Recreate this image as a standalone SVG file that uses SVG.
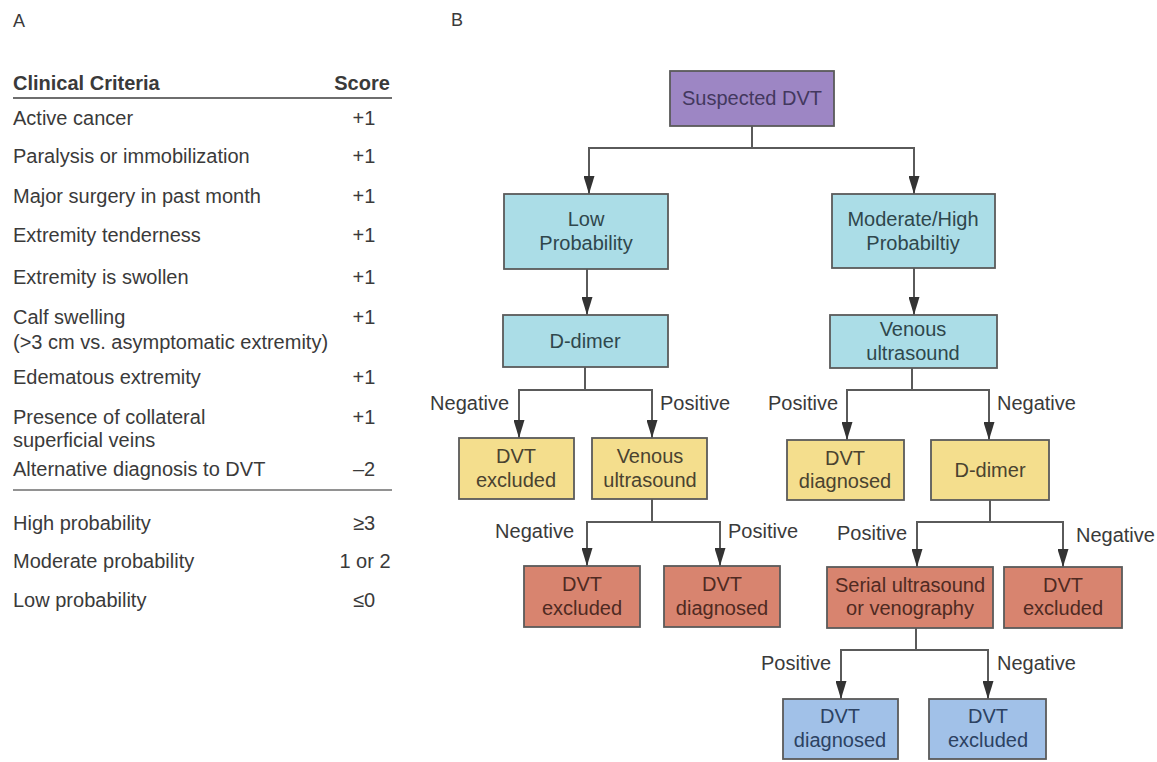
<svg xmlns="http://www.w3.org/2000/svg" width="1157" height="762" viewBox="0 0 1157 762">
<style>
text{font-family:"Liberation Sans",Arial,sans-serif;font-size:20px;fill:#3a3a3a}
.b{font-weight:bold}
.c{text-anchor:middle}
.e{text-anchor:end}
.hd{font-size:18px}
.box{stroke:#5a5a5a;stroke-width:1.8}
.pu{fill:#9d86c4}
.cy{fill:#abdde7}
.ye{fill:#f4de8d}
.rd{fill:#d8846f}
.bl{fill:#a1c1e8}
.tpu{fill:#43385e}
.tcy{fill:#2f474c}
.tye{fill:#4a4330}
.trd{fill:#4f2a22}
.tbl{fill:#2c4262}
.cn path{fill:none;stroke:#5a5a5a;stroke-width:2;marker-end:url(#ah)}
.rule{stroke:#6e6e6e}
</style>
<defs>
<marker id="ah" markerUnits="userSpaceOnUse" markerWidth="18" markerHeight="11" refX="18" refY="5.5" orient="auto">
<path d="M0,0 L18,5.5 L0,11 z" fill="#333"/>
</marker>
</defs>
<rect width="1157" height="762" fill="#ffffff"/>

<g id="panelA">
<text class="hd" x="13" y="27">A</text>
<text class="b" x="13" y="90">Clinical Criteria</text>
<text class="b c" x="362" y="90">Score</text>
<line class="rule" x1="13" y1="98" x2="392" y2="98" stroke-width="2"/>
<text x="13" y="125">Active cancer</text><text class="c" x="364" y="125">+1</text>
<text x="13" y="163">Paralysis or immobilization</text><text class="c" x="364" y="163">+1</text>
<text x="13" y="203">Major surgery in past month</text><text class="c" x="364" y="203">+1</text>
<text x="13" y="242">Extremity tenderness</text><text class="c" x="364" y="242">+1</text>
<text x="13" y="284">Extremity is swollen</text><text class="c" x="364" y="284">+1</text>
<text x="13" y="324">Calf swelling</text><text class="c" x="364" y="324">+1</text>
<text x="13" y="349">(&gt;3 cm vs. asymptomatic extremity)</text>
<text x="13" y="384">Edematous extremity</text><text class="c" x="364" y="384">+1</text>
<text x="13" y="424">Presence of collateral</text><text class="c" x="364" y="424">+1</text>
<text x="13" y="447">superficial veins</text>
<text x="13" y="476">Alternative diagnosis to DVT</text><text class="c" x="364" y="476">–2</text>
<line class="rule" x1="13" y1="490" x2="392" y2="490" stroke-width="1.5"/>
<text x="13" y="530">High probability</text><text class="c" x="364" y="530">≥3</text>
<text x="13" y="568">Moderate probability</text><text class="c" x="365" y="568">1 or 2</text>
<text x="13" y="607">Low probability</text><text class="c" x="364" y="607">≤0</text>
</g>

<text class="hd" x="451" y="26">B</text>

<g id="connectors" class="cn">
<path d="M752,126 V148 H589 V194"/>
<path d="M752,126 V148 H914 V194"/>
<path d="M587,269 V315"/>
<path d="M914,268 V315"/>
<path d="M585,367 V390 H519 V438"/>
<path d="M585,367 V390 H652 V438"/>
<path d="M652,499 V522 H587 V566"/>
<path d="M652,499 V522 H720 V566"/>
<path d="M912,368 V390 H847 V440"/>
<path d="M912,368 V390 H989 V440"/>
<path d="M990,500 V522 H917 V567"/>
<path d="M990,500 V522 H1063 V567"/>
<path d="M916,628 V650 H841 V699"/>
<path d="M916,628 V650 H988 V699"/>
</g>

<g id="edge-labels">
<text class="e" x="509" y="410">Negative</text>
<text x="660" y="410">Positive</text>
<text class="e" x="838" y="410">Positive</text>
<text x="997" y="410">Negative</text>
<text class="e" x="574" y="538">Negative</text>
<text x="728" y="538">Positive</text>
<text class="e" x="907" y="540">Positive</text>
<text x="1076" y="542">Negative</text>
<text class="e" x="831" y="670">Positive</text>
<text x="997" y="670">Negative</text>
</g>

<g id="suspected">
<rect class="box pu" x="670" y="71" width="164" height="55"/>
<text class="c tpu" x="752" y="105">Suspected DVT</text>
</g>
<g id="low">
<rect class="box cy" x="504" y="194" width="164" height="75"/>
<text class="c tcy" x="586" y="226">Low</text>
<text class="c tcy" x="586" y="250">Probability</text>
</g>
<g id="modhigh">
<rect class="box cy" x="832" y="194" width="163" height="74"/>
<text class="c tcy" x="913" y="226">Moderate/High</text>
<text class="c tcy" x="913" y="250">Probabiltiy</text>
</g>
<g id="ddimer1">
<rect class="box cy" x="503" y="315" width="165" height="52"/>
<text class="c tcy" x="585" y="348">D-dimer</text>
</g>
<g id="venous1">
<rect class="box cy" x="830" y="315" width="167" height="53"/>
<text class="c tcy" x="913" y="336">Venous</text>
<text class="c tcy" x="913" y="360">ultrasound</text>
</g>
<g id="excluded1">
<rect class="box ye" x="459" y="438" width="115" height="61"/>
<text class="c tye" x="516" y="463">DVT</text>
<text class="c tye" x="516" y="487">excluded</text>
</g>
<g id="venous2">
<rect class="box ye" x="592" y="438" width="115" height="61"/>
<text class="c tye" x="650" y="463">Venous</text>
<text class="c tye" x="650" y="487">ultrasound</text>
</g>
<g id="diagnosed1">
<rect class="box ye" x="787" y="440" width="117" height="60"/>
<text class="c tye" x="845" y="465">DVT</text>
<text class="c tye" x="845" y="488">diagnosed</text>
</g>
<g id="ddimer2">
<rect class="box ye" x="931" y="440" width="118" height="60"/>
<text class="c tye" x="990" y="477">D-dimer</text>
</g>
<g id="excluded2">
<rect class="box rd" x="524" y="566" width="116" height="61"/>
<text class="c trd" x="582" y="591">DVT</text>
<text class="c trd" x="582" y="615">excluded</text>
</g>
<g id="diagnosed2">
<rect class="box rd" x="664" y="566" width="116" height="61"/>
<text class="c trd" x="722" y="591">DVT</text>
<text class="c trd" x="722" y="615">diagnosed</text>
</g>
<g id="serial">
<rect class="box rd" x="827" y="567" width="166" height="61"/>
<text class="c trd" x="910" y="592">Serial ultrasound</text>
<text class="c trd" x="910" y="615">or venography</text>
</g>
<g id="excluded3">
<rect class="box rd" x="1004" y="567" width="118" height="61"/>
<text class="c trd" x="1063" y="592">DVT</text>
<text class="c trd" x="1063" y="615">excluded</text>
</g>
<g id="diagnosed3">
<rect class="box bl" x="783" y="699" width="115" height="60"/>
<text class="c tbl" x="840" y="723">DVT</text>
<text class="c tbl" x="840" y="747">diagnosed</text>
</g>
<g id="excluded4">
<rect class="box bl" x="929" y="699" width="117" height="60"/>
<text class="c tbl" x="988" y="723">DVT</text>
<text class="c tbl" x="988" y="747">excluded</text>
</g>
</svg>
